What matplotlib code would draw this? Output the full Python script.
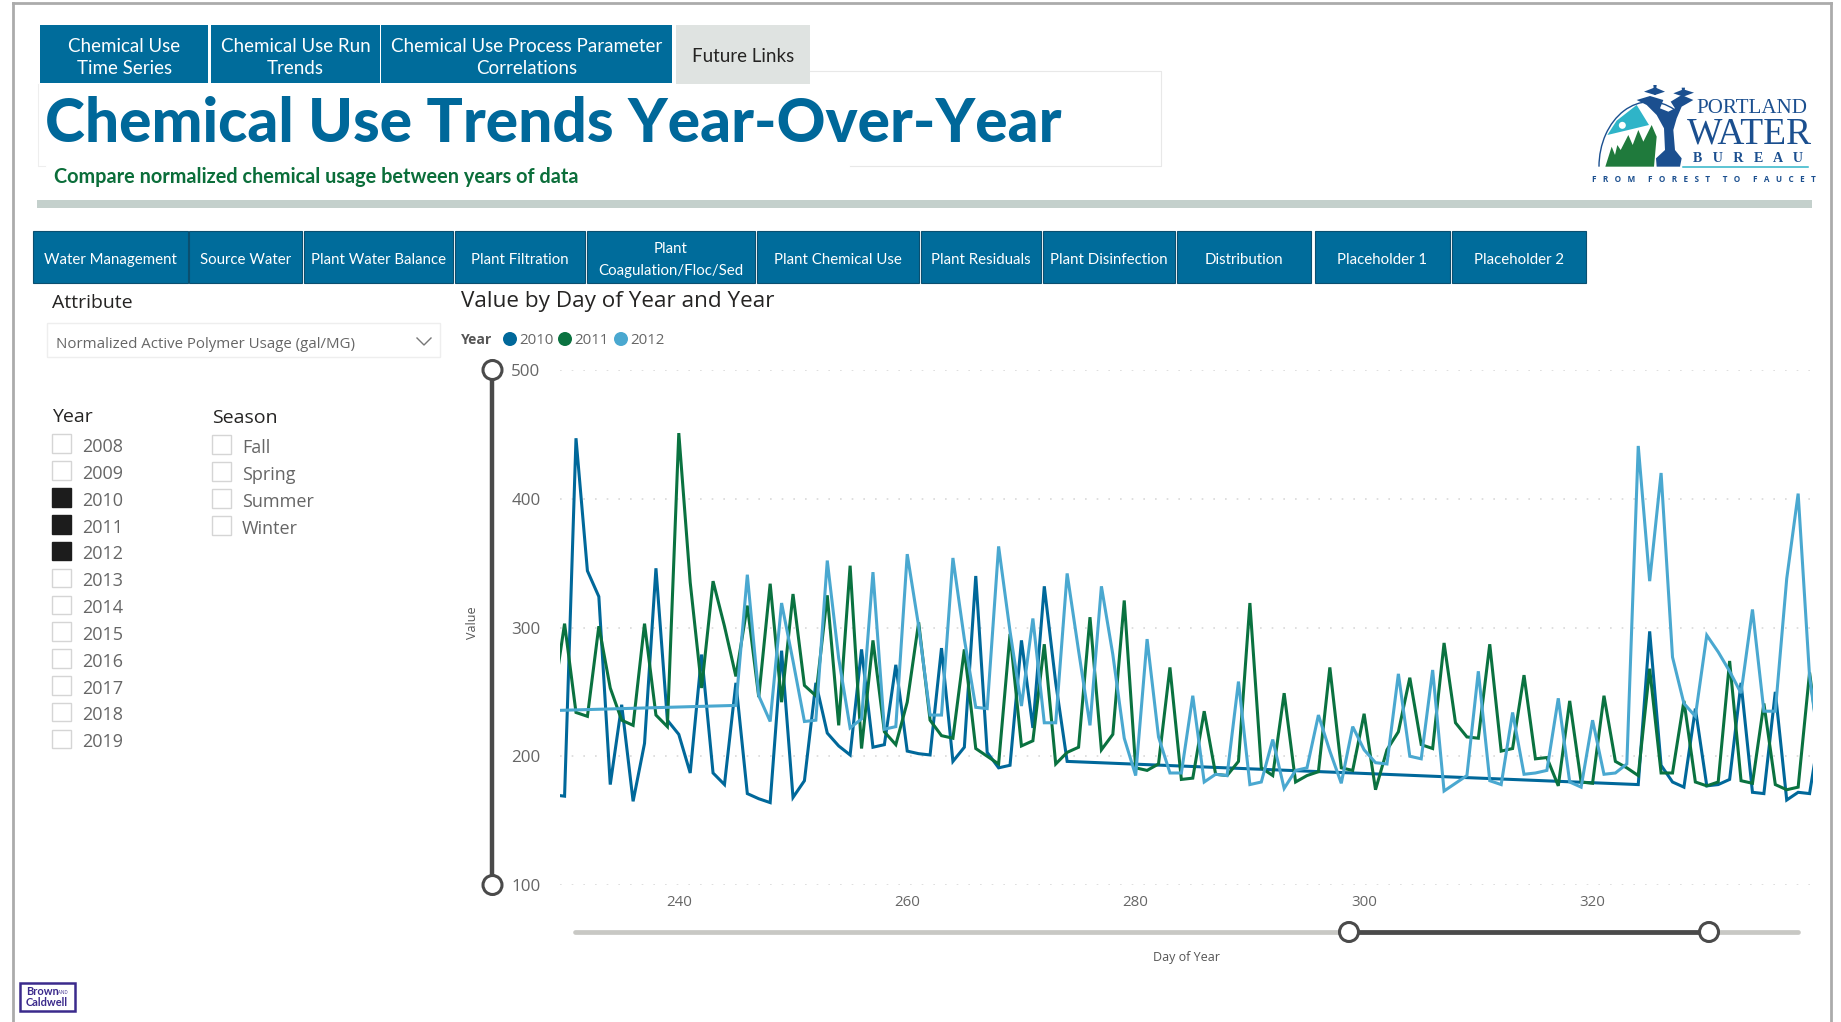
import matplotlib
matplotlib.use("Agg")
import matplotlib.pyplot as plt
from matplotlib.patches import Rectangle, Circle, Polygon, Arc

# ---- chart data -------------------------------------------------------
days_2010 = list(range(229, 275)) + list(range(324, 341))
values_2010 = [170, 169, 447, 344, 324, 178, 240, 165, 210, 346, 228, 217, 187, 279, 187, 178,
               257, 171, 167, 164, 282, 168, 181, 257, 218, 208, 201, 283, 207, 209, 271, 204,
               202, 201, 284, 196, 207, 340, 203, 191, 193, 290, 222, 332, 257, 196,
               178, 297, 193, 180, 176, 237, 177, 178, 182, 257, 172, 171, 250, 166, 172, 171, 226]

days_2011 = list(range(229, 341))
values_2011 = [243, 303, 234, 231, 301, 253, 228, 224, 303, 232, 223, 451, 335, 253, 336, 301,
               262, 317, 246, 334, 242, 326, 255, 247, 325, 224, 348, 206, 290, 219, 209, 242,
               304, 228, 216, 214, 283, 206, 200, 194, 295, 208, 212, 287, 194, 203, 207, 308,
               205, 217, 321, 191, 189, 194, 269, 182, 183, 235, 186, 185, 196, 319, 191, 185,
               249, 180, 185, 188, 269, 191, 189, 233, 174, 205, 219, 261, 209, 206, 288, 226,
               215, 214, 287, 204, 206, 263, 198, 199, 177, 243, 180, 179, 247, 196, 191, 185,
               268, 187, 187, 243, 180, 177, 180, 274, 181, 179, 241, 178, 174, 176, 265, 197]

days_2012 = [229] + list(range(245, 341))
values_2012 = [235.5, 239.5, 341, 247, 227, 319, 274, 227, 228, 352, 276, 222, 229, 343, 221, 223,
               357, 301, 232, 232, 354, 291, 238, 237, 363, 297, 239, 307, 226, 226, 342, 282,
               224, 332, 279, 214, 185, 291, 215, 187, 187, 247, 180, 186, 185, 258, 178, 180,
               213, 175, 189, 191, 232, 204, 179, 223, 205, 195, 194, 264, 200, 198, 267, 173,
               179, 185, 266, 181, 178, 234, 186, 187, 189, 245, 180, 176, 228, 186, 187, 194,
               441, 336, 420, 277, 241, 231, 294, 281, 266, 249, 314, 235, 235, 338, 404, 262, 197]

series_names = ["2010", "2011", "2012"]
series_colors = ["#00689A", "#0A7240", "#4AA8D0"]
x_ticks = [240, 260, 280, 300, 320]
y_ticks = [100, 200, 300, 400, 500]

top_tabs = ["Chemical Use\nTime Series", "Chemical Use Run\nTrends",
            "Chemical Use Process Parameter\nCorrelations"]
nav_buttons = ["Water Management", "Source Water", "Plant Water Balance", "Plant Filtration",
               "Plant\nCoagulation/Floc/Sed", "Plant Chemical Use", "Plant Residuals",
               "Plant Disinfection", "Distribution", "Placeholder 1", "Placeholder 2"]
year_items = [str(y) for y in range(2008, 2020)]
selected_years = {"2010", "2011", "2012"}
season_items = ["Fall", "Spring", "Summer", "Winter"]

# ---- page setup -------------------------------------------------------
W, H = 1841, 1022
plt.rcParams["font.family"] = ["Open Sans", "DejaVu Sans"]
fig = plt.figure(figsize=(W / 100, H / 100), dpi=100, facecolor="white")
page = fig.add_axes([0, 0, 1, 1], zorder=1)
page.set_xlim(0, W)
page.set_ylim(H, 0)
page.axis("off")

BLUE = "#006C9B"
GREY_TEXT = "#666666"
DARK_TEXT = "#252423"
NARROW = ["Lato", "DejaVu Sans"]


def px(size):
    """Font size in points for a size given in pixels."""
    return size * 72 / 100


def box(x0, y0, x1, y1, **kw):
    page.add_patch(Rectangle((x0, y0), x1 - x0, y1 - y0, **kw))


def label(x, y, s, size, color=DARK_TEXT, ha="left", va="center", **kw):
    return page.text(x, y, s, fontsize=px(size), color=color, ha=ha, va=va, **kw)


# report frame
page.plot([13, 13], [H, 3], color="#ABABAB", lw=2)
page.plot([13, 1831], [3, 3], color="#ABABAB", lw=2)
page.plot([1831, 1831], [3, H], color="#ABABAB", lw=2)

# title panel outline
page.plot([38, 38, 45], [84, 166, 166], color="#EEEEEE", lw=0.8)
page.plot([810, 1161, 1161, 850], [71, 71, 166, 166], color="#E8E8E8", lw=0.8)

# top tabs
tab_edges = [(40.5, 208), (211, 380), (381, 672.5)]
for (x0, x1), name in zip(tab_edges, top_tabs):
    box(x0, 25, x1, 83, fc=BLUE, ec="none")
    label((x0 + x1) / 2, 57.5, name, 18.8, color="white", ha="center", linespacing=1.42,
          family=NARROW)
box(676, 25, 810, 84, fc="#DFE3E1", ec="none")
label(743, 56, "Future Links", 18.8, ha="center", family=NARROW)

# heading
label(45, 124, "Chemical Use Trends Year-Over-Year", 60.4, color="#00689A", weight="black",
      family=NARROW)
label(54, 177, "Compare normalized chemical usage between years of data", 19.9,
      color="#0B6E3A", weight="bold", family=NARROW)
box(37, 200, 1812, 208, fc="#C4D0CC", ec="none")

# navigation buttons
nav_edges = [(33.5, 188), (189.5, 302), (304.5, 453.5), (455, 585), (587, 755), (757, 919),
             (921.5, 1041), (1043.5, 1175), (1177, 1311), (1315, 1450), (1452, 1586)]
for (x0, x1), name in zip(nav_edges, nav_buttons):
    box(x0, 231, x1, 283, fc=BLUE, ec="#0A4F70", lw=0.8)
    label((x0 + x1) / 2, 260, name, 15, color="white", ha="center", linespacing=1.7,
          family=NARROW)

# attribute slicer
label(52, 303, "Attribute", 19.5, color=DARK_TEXT)
box(47, 323, 440, 357, fc="white", ec="#EEEEEE", lw=1)
label(56, 344.5, "Normalized Active Polymer Usage (gal/MG)", 15, color=GREY_TEXT)
page.plot([417, 424, 431], [338, 345, 338], color="#777777", lw=1)

# year and season slicers
label(52, 417, "Year", 19.5)
label(212, 418, "Season", 19.5)
for i, name in enumerate(year_items):
    top = 434.5 + i * 26.85
    on = name in selected_years
    box(52.5, top, 71.5, top + 18.5, fc="#1C1C1C" if on else "white",
        ec="#1C1C1C" if on else "#D5D5D5", lw=1)
    label(82, top + 12.5, name, 18, color=GREY_TEXT)
for i, name in enumerate(season_items):
    top = 435.5 + i * 26.85
    box(212.5, top, 231, top + 18.5, fc="white", ec="#D5D5D5", lw=1)
    label(242, top + 12.5, name, 18, color=GREY_TEXT)

# chart heading and legend
label(461, 302, "Value by Day of Year and Year", 22.5)
label(461, 340, "Year", 14, color="#555555", weight="bold")
for cx, name, color in zip((510, 565, 621), series_names, series_colors):
    page.add_patch(Circle((cx, 339), 7, fc=color, ec="none"))
    label(cx + 9, 340, name, 15, color=GREY_TEXT)

# ---- line chart -------------------------------------------------------
LEFT, RIGHT, TOP, BOTTOM = 560, 1813, 370, 885
ax = fig.add_axes([LEFT / W, 1 - BOTTOM / H, (RIGHT - LEFT) / W, (BOTTOM - TOP) / H], zorder=2)
ax.patch.set_alpha(0)
ax.set_xlim(229.6, 339.3)
ax.set_ylim(100, 500)
for days, values, name, color in zip((days_2010, days_2011, days_2012),
                                     (values_2010, values_2011, values_2012),
                                     series_names, series_colors):
    ax.plot(days, values, color=color, lw=2.2, label=name, solid_joinstyle="miter")
for side in ax.spines.values():
    side.set_visible(False)
ax.set_xticks(x_ticks)
ax.set_yticks(y_ticks)
ax.tick_params(length=0, labelsize=px(15), labelcolor=GREY_TEXT)
ax.tick_params(axis="x", pad=7.5)
ax.tick_params(axis="y", pad=14)
ax.xaxis.grid(False)
ax.yaxis.grid(True, color="#D9D9D9", lw=1.2, linestyle=(0, (1, 6)))
ax.set_axisbelow(True)
for tick in ax.get_yticklabels():
    tick.set_fontsize(px(17))
label(473, 623, "Value", 12.5, color="#555555", ha="center", rotation=90)
label(1187, 957, "Day of Year", 12.5, color="#555555", ha="center")

# axis range sliders
page.plot([492.5, 492.5], [370, 885], color="#4A4A4A", lw=3.2, solid_capstyle="butt")
for y in (370, 885):
    page.add_patch(Circle((492.5, y), 9.5, fc="white", ec="#4A4A4A", lw=2.2, zorder=5))
page.plot([575, 1798], [932, 932], color="#C8C8C4", lw=3.4, solid_capstyle="round")
page.plot([1349, 1709], [932, 932], color="#4A4A4A", lw=3.4, solid_capstyle="butt")
for x in (1349, 1709):
    page.add_patch(Circle((x, 932), 9.5, fc="white", ec="#4A4A4A", lw=2.2, zorder=5))

# ---- agency logo ------------------------------------------------------
NAVY = "#1B4F8F"


def lx(x):
    return 1500 + x / 3


def ly(y):
    return 50 + y / 3


def shape(points, color):
    page.add_patch(Polygon([(lx(a), ly(b)) for a, b in points], closed=True, fc=color, ec="none"))


# sky wedge and moon
page.add_patch(Arc((lx(450), ly(350)), 102, 130, theta1=180, theta2=293, color=NAVY, lw=1))
shape([(322, 255), (350, 212), (410, 165), (447, 225), (385, 240)], "#2FB4C8")
page.add_patch(Circle((lx(367), ly(226)), 3.5, fc="white", ec="none"))
# tree line
shape([(316, 350), (335, 290), (345, 315), (352, 285), (362, 300), (385, 255), (398, 285),
       (415, 240), (430, 275), (455, 225), (470, 260), (462, 350)], "#1F7A3C")
# fountain figure and its basins
shape([(470, 350), (468, 325), (495, 300), (492, 235), (470, 195), (440, 165), (410, 150),
       (450, 138), (490, 150), (480, 175), (505, 185), (525, 175), (512, 155), (545, 135),
       (580, 150), (545, 170), (530, 205), (520, 240), (525, 300), (545, 325), (540, 350)], NAVY)
shape([(432, 125), (465, 112), (495, 125), (465, 135)], NAVY)
shape([(520, 130), (550, 118), (582, 128), (550, 140)], NAVY)
shape([(460, 105), (470, 105), (467, 135), (463, 135)], NAVY)
shape([(545, 113), (555, 113), (552, 140), (548, 140)], NAVY)
page.text(lx(590), ly(190), "PORTLAND", fontsize=px(21), color=NAVY, family="Liberation Serif",
          ha="left", va="baseline")
page.text(lx(560), ly(282), "WATER", fontsize=px(37.5), color=NAVY, family="Liberation Serif",
          ha="left", va="baseline")
page.text(lx(745), ly(337), "B   U   R   E   A   U", fontsize=px(14), color=NAVY,
          family="Liberation Serif", weight="bold", ha="center", va="baseline")
page.plot([lx(550), lx(925)], [ly(350), ly(350)], color="#2FB4C8", lw=1.1)
page.text(lx(611), ly(396), "F   R   O   M      F   O   R   E   S   T      T   O      F   A   U   C   E   T",
          fontsize=px(8.2), color=NAVY, weight="bold", ha="center", va="baseline")

# consultant badge
box(20, 983, 75, 1011, fc="white", ec="#3B2A8C", lw=1.8)
label(26, 991.5, "Brown", 11, color="#3B2A8C", weight="bold", family=NARROW)
label(58, 992, "AND", 4.5, color="#3B2A8C")
label(26, 1002.5, "Caldwell", 11, color="#3B2A8C", weight="bold", family=NARROW)

fig.savefig("out.png", dpi=100)
